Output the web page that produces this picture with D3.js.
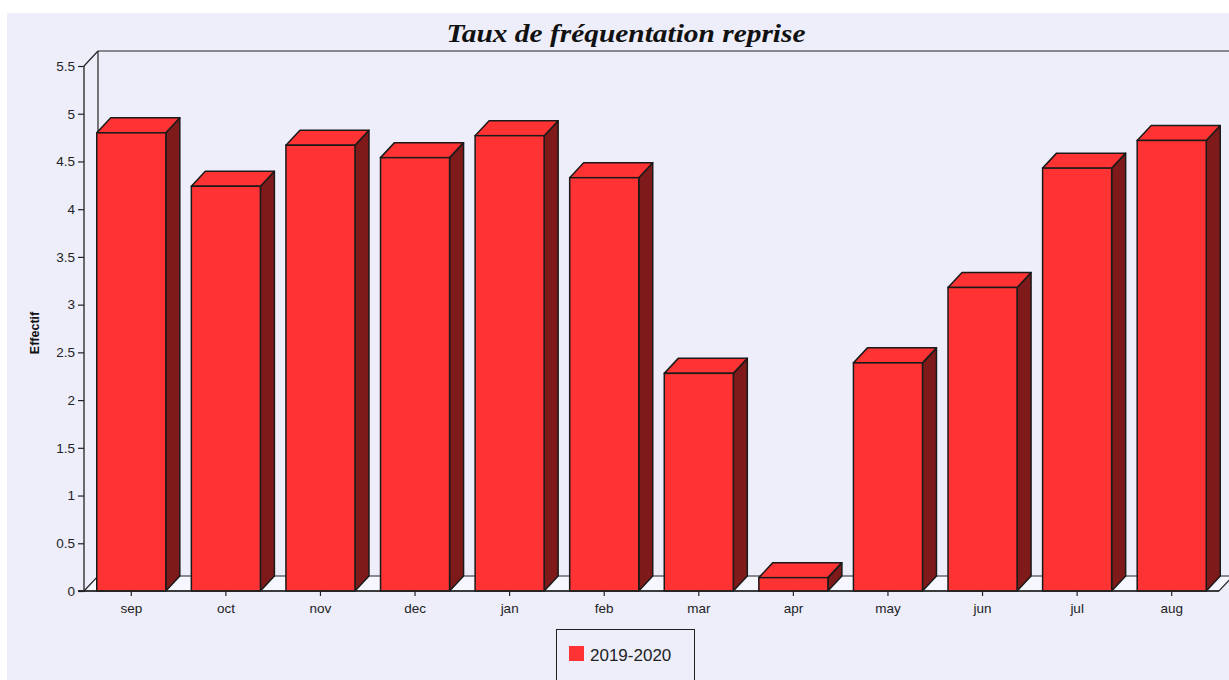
<!DOCTYPE html>
<html><head><meta charset="utf-8">
<script src="https://cdn.jsdelivr.net/npm/d3@7"></script>
<style>html,body{margin:0;padding:0;background:#fff;}svg{display:block;}</style>
</head><body>
<script>
const months = ["sep","oct","nov","dec","jan","feb","mar","apr","may","jun","jul","aug"];
const values2019 = [4.80,4.24,4.67,4.54,4.77,4.33,2.28,0.14,2.39,3.18,4.43,4.72];
const yTicks = [0,0.5,1,1.5,2,2.5,3,3.5,4,4.5,5,5.5];
const seriesName = "2019-2020";
const titleText = "Taux de fréquentation reprise";
const yLabel = "Effectif";

const W = 1229, H = 680;
const svg = d3.select("body").append("svg").attr("width", W).attr("height", H);
svg.append("rect").attr("x",7).attr("y",13).attr("width",W-7).attr("height",H-13).attr("fill","#EEEEFB");

const x0 = 84, x1 = 1219, yBot = 591, yTop = 66;
const dx = 14, dy = 15;
const x = d3.scaleBand().domain(months).range([x0,x1]).paddingInner(0.27).paddingOuter(0.135);
const y = d3.scaleLinear().domain([0,5.5]).range([yBot,yTop]);

// back wall
svg.append("line").attr("x1",x0+dx).attr("x2",W+5).attr("y1",yTop-dy).attr("y2",yTop-dy).attr("stroke","#222").attr("stroke-width",1.2);
svg.append("line").attr("x1",x0+dx).attr("x2",x0+dx).attr("y1",yTop-dy).attr("y2",yBot-dy).attr("stroke","#222").attr("stroke-width",1.2);
svg.append("line").attr("x1",x0).attr("x2",x0+dx).attr("y1",yTop).attr("y2",yTop-dy).attr("stroke","#222").attr("stroke-width",1.2);
// floor
svg.append("path").attr("d",`M${x0},${yBot}L${x0+dx},${yBot-dy}L${x1+dx},${yBot-dy}L${x1},${yBot}Z`)
  .attr("fill","#F6F6FF").attr("stroke","#222").attr("stroke-width",1.2);

// bars
const g = svg.append("g");
months.forEach((m,i)=>{
  const bx = x(m), bw = x.bandwidth(), ty = y(values2019[i]);
  const bar = g.append("g");
  bar.append("path").attr("d",`M${bx+bw},${yBot}L${bx+bw+dx},${yBot-dy}L${bx+bw+dx},${ty-dy}L${bx+bw},${ty}Z`)
    .attr("fill","#7F1A1A").attr("stroke","#1a1a1a").attr("stroke-width",1.5).attr("stroke-linejoin","round");
  bar.append("path").attr("d",`M${bx},${ty}L${bx+dx},${ty-dy}L${bx+bw+dx},${ty-dy}L${bx+bw},${ty}Z`)
    .attr("fill","#FF3333").attr("stroke","#1a1a1a").attr("stroke-width",1.5).attr("stroke-linejoin","round");
  bar.append("rect").attr("x",bx).attr("y",ty).attr("width",bw).attr("height",yBot-ty)
    .attr("fill","#FF3333").attr("stroke","#1a1a1a").attr("stroke-width",1.5);
});

// axes
const yAxis = d3.axisLeft(y).tickValues(yTicks).tickSize(6).tickPadding(3).tickFormat(d=>String(d));
const ya = svg.append("g").attr("transform",`translate(${x0},0)`).call(yAxis);
const xAxis = d3.axisBottom(x).tickSize(5).tickPadding(7);
const xa = svg.append("g").attr("transform",`translate(0,${yBot})`).call(xAxis);
[ya,xa].forEach(a=>{
  a.select(".domain").attr("stroke","#222").attr("stroke-width",1.3);
  a.selectAll(".tick line").attr("stroke","#222").attr("stroke-width",1.2);
  a.selectAll("text").attr("font-family","Liberation Sans, Arial, sans-serif").attr("font-size",13.5).attr("fill","#222");
});
ya.select(".domain").attr("d",`M-6,${yBot}H0V${yTop}`);
xa.select(".domain").attr("d",`M${x0-6},0H${x1}`);

// y label
svg.append("text").attr("transform","translate(39,333) rotate(-90)").attr("text-anchor","middle")
  .attr("font-family","Liberation Sans, Arial, sans-serif").attr("font-weight","bold").attr("font-size",12.5).attr("fill","#111").text(yLabel);

// title
svg.append("text").attr("x",626).attr("y",42).attr("text-anchor","middle")
  .attr("font-family","Liberation Serif, Times New Roman, serif").attr("font-style","italic").attr("font-weight","bold")
  .attr("font-size",26).attr("textLength",359).attr("lengthAdjust","spacingAndGlyphs").attr("fill","#111").text(titleText);

// legend
const lg = svg.append("g");
lg.append("rect").attr("x",556.5).attr("y",629.5).attr("width",138).attr("height",70).attr("fill","none").attr("stroke","#222").attr("stroke-width",1);
lg.append("rect").attr("x",569).attr("y",646).attr("width",15).attr("height",15).attr("fill","#FF3333");
lg.append("text").attr("x",590).attr("y",661).attr("font-family","Liberation Sans, Arial, sans-serif").attr("font-size",17).attr("fill","#222").text(seriesName);
</script>
</body></html>
